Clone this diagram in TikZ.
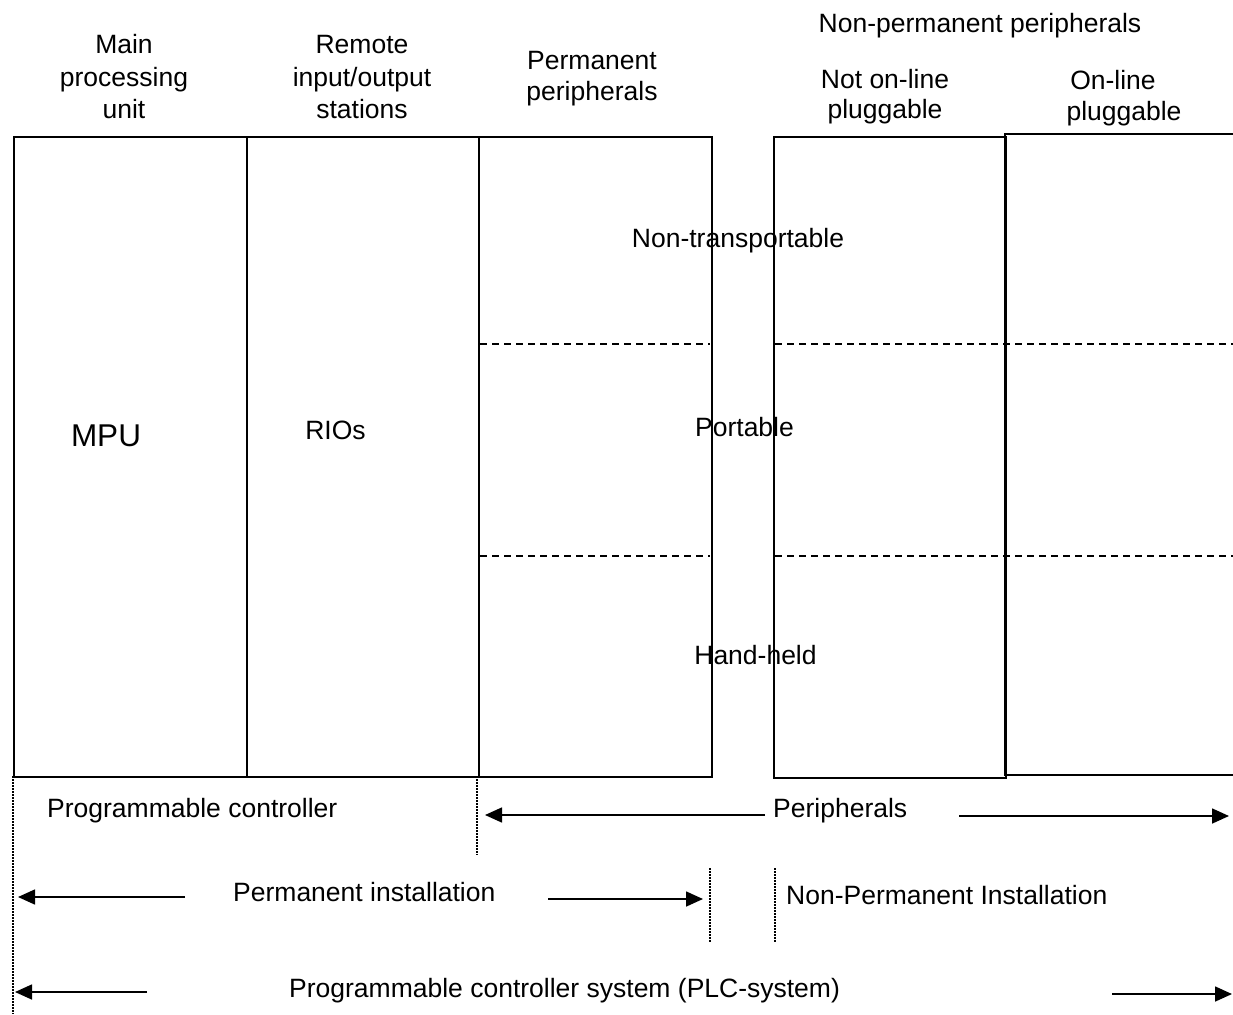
\documentclass[tikz,border=0pt]{standalone}
\usepackage{fontspec}
\setmainfont{Liberation Sans}
\usetikzlibrary{arrows.meta}
\begin{document}
\begin{tikzpicture}[x=1pt,y=-1pt,
  lbl/.style={font=\fontsize{26.5}{32.5}\selectfont, inner sep=0pt, anchor=base},
  hdr/.style={lbl, align=center},
  big/.style={font=\fontsize{31.5}{36}\selectfont, inner sep=0pt, anchor=base},
  frame/.style={draw=black, line width=1.6pt, rectangle, inner sep=0pt, anchor=north west},
  sep/.style={draw=black, line width=1.6pt, dash pattern=on 7pt off 5pt},
  dots/.style={draw=black, line width=1.9pt, dash pattern=on 1.5pt off 1.5pt},
  arr/.style={draw=black, line width=1.6pt, -{Triangle[length=17pt,width=15pt]}}]
\useasboundingbox[fill=white] (0,0) rectangle (1233,1014);

% boxes
\node[frame, minimum width=233pt, minimum height=640pt] (mpubox) at (13,136) {};
\node[frame, minimum width=232pt, minimum height=640pt] (riobox) at (246,136) {};
\node[frame, minimum width=233pt, minimum height=640pt] (permbox) at (478,136) {};
\node[frame, minimum width=232pt, minimum height=641pt] (nplbox) at (773,136) {};
\coordinate (oltr) at (1240,134);
\coordinate (oltl) at (1005,134);
\coordinate (olbl) at (1005,775);
\coordinate (olbr) at (1240,775);
\draw[line width=1.6pt] (oltr) -- (oltl) -- (olbl) -- (olbr);

% dashed separators
\coordinate (d1a) at (480,344); \coordinate (d1b) at (710,344);
\coordinate (d2a) at (775,344); \coordinate (d2b) at (1233,344);
\coordinate (d3a) at (480,556); \coordinate (d3b) at (710,556);
\coordinate (d4a) at (775,556); \coordinate (d4b) at (1233,556);
\draw[sep] (d1a) -- (d1b);
\draw[sep] (d2a) -- (d2b);
\draw[sep] (d3a) -- (d3b);
\draw[sep] (d4a) -- (d4b);

% headers (base anchor = baseline of last line)
\node[hdr] (hmain) at (124,119) {Main\\processing\\unit};
\node[hdr] (hremote) at (362,119) {Remote\\input/output\\stations};
\node[hdr, font=\fontsize{26.5}{30.5}\selectfont] (hperm) at (592,100.5) {Permanent\\peripherals};
\node[lbl] (hnonperm) at (980,33) {Non-permanent peripherals};
\node[hdr, font=\fontsize{26.5}{31}\selectfont] (hnotol) at (885,119) {Not on-line\\pluggable};
\node[hdr, font=\fontsize{26.5}{31}\selectfont] (hol) at (1124,121) {\hspace*{-22pt}On-line\\pluggable};

% inner labels
\node[big] (mpu) at (106,446) {MPU};
\node[lbl] (rios) at (335.5,439) {RIOs};
\node[lbl] (nontr) at (738,247) {Non-transportable};
\node[lbl] (port) at (744.5,436) {Portable};
\node[lbl] (hand) at (755.5,664) {Hand-held};

% bottom labels
\node[lbl, anchor=base west] (pc) at (47,817) {Programmable controller};
\node[lbl, anchor=base west] (periph) at (773,817) {Peripherals};
\node[lbl, anchor=base west] (pinst) at (233,901) {Permanent installation};
\node[lbl, anchor=base west] (npinst) at (786,904) {Non-Permanent Installation};
\node[lbl, anchor=base west] (plc) at (289,997) {Programmable controller system (PLC-system)};

% arrows
\coordinate (pa1) at (765,815); \coordinate (pa1t) at (485,815);
\coordinate (pa2) at (959,816); \coordinate (pa2t) at (1229,816);
\coordinate (ia1) at (185,897); \coordinate (ia1t) at (18,897);
\coordinate (ia2) at (548,899); \coordinate (ia2t) at (703,899);
\coordinate (sa1) at (147,992); \coordinate (sa1t) at (15,992);
\coordinate (sa2) at (1112,994); \coordinate (sa2t) at (1232,994);
\draw[arr] (pa1) -- (pa1t);
\draw[arr] (pa2) -- (pa2t);
\draw[arr] (ia1) -- (ia1t);
\draw[arr] (ia2) -- (ia2t);
\draw[arr] (sa1) -- (sa1t);
\draw[arr] (sa2) -- (sa2t);

% dotted boundaries
\coordinate (v1a) at (13,776); \coordinate (v1b) at (13,1014);
\coordinate (v2a) at (477,776); \coordinate (v2b) at (477,855);
\coordinate (v3a) at (710,868); \coordinate (v3b) at (710,942);
\coordinate (v4a) at (775,868); \coordinate (v4b) at (775,942);
\draw[dots] (v1a) -- (v1b);
\draw[dots] (v2a) -- (v2b);
\draw[dots] (v3a) -- (v3b);
\draw[dots] (v4a) -- (v4b);
\end{tikzpicture}
\end{document}
